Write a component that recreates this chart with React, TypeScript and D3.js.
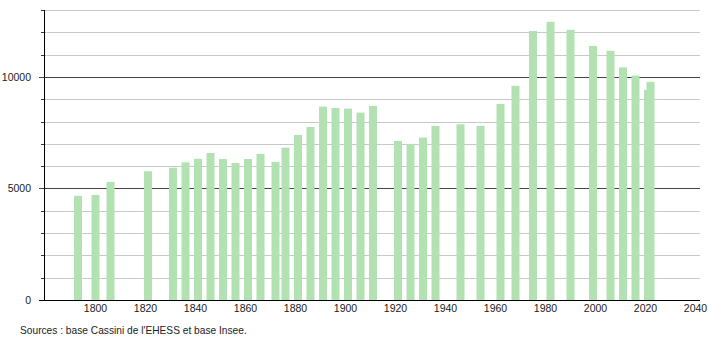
import React from "react";
import * as d3 from "d3";

const years = [
  1793, 1800, 1806, 1821, 1831, 1836, 1841, 1846, 1851, 1856, 1861, 1866, 1872,
  1876, 1881, 1886, 1891, 1896, 1901, 1906, 1911, 1921, 1926, 1931, 1936, 1946,
  1954, 1962, 1968, 1975, 1982, 1990, 1999, 2006, 2011, 2016, 2021, 2022,
];
const population = [
  4670, 4710, 5290, 5770, 5930, 6170, 6330, 6590, 6320, 6140, 6320, 6550, 6190,
  6830, 7400, 7760, 8670, 8610, 8580, 8400, 8700, 7130, 7000, 7280, 7800, 7880,
  7800, 8790, 9600, 12060, 12470, 12110, 11390, 11170, 10430, 10060, 9420, 9780,
];
const xTicks = [1800, 1820, 1840, 1860, 1880, 1900, 1920, 1940, 1960, 1980, 2000, 2020, 2040];
const yMajor = [0, 5000, 10000];
const yMinor = [1000, 2000, 3000, 4000, 6000, 7000, 8000, 9000, 11000, 12000, 13000];
const sourceText = "Sources : base Cassini de l'EHESS et base Insee.";

const W = 710;
const H = 340;
const left = 44;
const right = 700;
const top = 10;
const bottom = 300;
const font = "'Liberation Sans', Arial, Helvetica, sans-serif";

export default function App() {
  const x = d3.scaleLinear().domain([1779.4, 2041.8]).range([left, right]);
  const y = d3.scaleLinear().domain([0, 13000]).range([bottom, top]);
  const py = (v: number) => Math.round(y(v)) + 0.5;
  const barW = 8;

  return (
    <svg
      width={W}
      height={H}
      viewBox={`0 0 ${W} ${H}`}
      style={{ position: "absolute", left: 0, top: 0, background: "#fff" }}
    >
      {yMinor.map((v) => (
        <g key={"mi" + v}>
          <line x1={left} x2={right} y1={py(v)} y2={py(v)} stroke="#c8c8c8" strokeWidth={1} />
          <line x1={left - 3} x2={left} y1={py(v)} y2={py(v)} stroke="#333" strokeWidth={1} />
        </g>
      ))}
      {yMajor.map((v) => (
        <line
          key={"ma" + v}
          x1={left - 5}
          x2={right}
          y1={py(v)}
          y2={py(v)}
          stroke={v === 0 ? "#000" : "#444"}
          strokeWidth={1}
        />
      ))}
      {years.map((yr, i) => (
        <rect
          key={yr}
          x={x(yr) - barW / 2}
          y={y(population[i])}
          width={barW}
          height={bottom - y(population[i])}
          fill="#b2e2b2"
        />
      ))}
      <line x1={left + 0.5} x2={left + 0.5} y1={top} y2={bottom} stroke="#000" strokeWidth={1} />
      <line x1={left - 5} x2={right} y1={bottom + 0.5} y2={bottom + 0.5} stroke="#000" strokeWidth={1} />
      {yMajor.map((v) => (
        <text
          key={"yl" + v}
          x={31}
          y={y(v) + 4}
          textAnchor="end"
          fontFamily={font}
          fontSize={10.5}
          fill="#222"
        >
          {v}
        </text>
      ))}
      {xTicks.map((t) => (
        <text
          key={"xl" + t}
          x={x(t)}
          y={312}
          textAnchor="middle"
          fontFamily={font}
          fontSize={10.5}
          fill="#222"
        >
          {t}
        </text>
      ))}
      <text x={20} y={334} fontFamily={font} fontSize={10.2} fill="#222">
        {sourceText}
      </text>
    </svg>
  );
}
